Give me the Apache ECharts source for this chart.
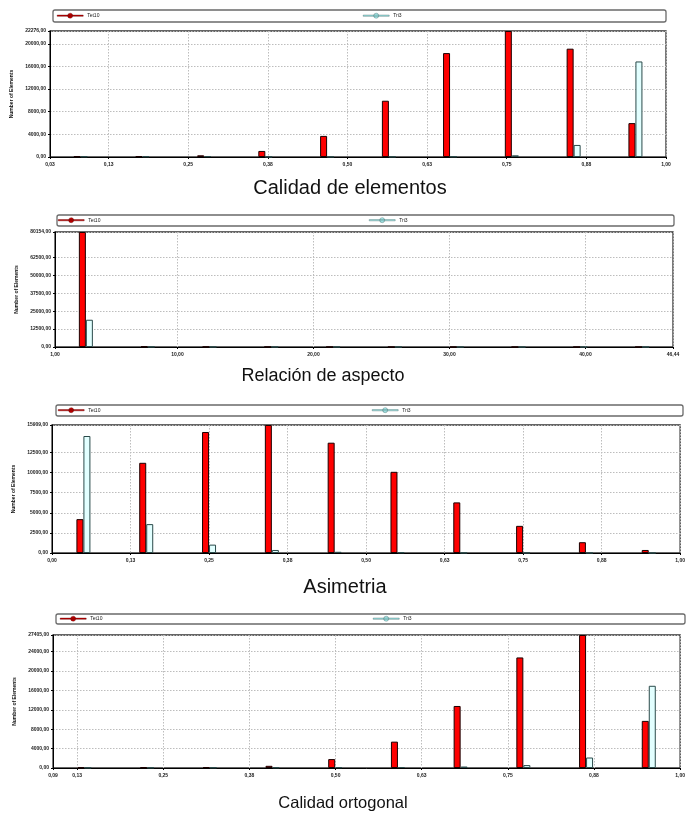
<!DOCTYPE html>
<html>
<head>
<meta charset="utf-8">
<script src="https://cdn.jsdelivr.net/npm/echarts@6/dist/echarts.min.js"></script>
<style>
html,body{margin:0;padding:0;background:#fff;}
#main{width:688px;height:816px;}
</style>
</head>
<body>
<div id="main"></div>
<script>
// ---------- DATA ----------
const seriesNames = ['Tet10', 'Tri3'];
const titles = ['Calidad de elementos', 'Relación de aspecto', 'Asimetria', 'Calidad ortogonal'];
const yAxisName = 'Number of Elements';

// Chart 1: Calidad de elementos
const centers1 = [0.081, 0.178, 0.275, 0.371, 0.468, 0.565, 0.661, 0.758, 0.855, 0.952];
const tet1 = [120, 150, 300, 1070, 3730, 9950, 18370, 22276, 19150, 5990];
const tri1 = [100, 120, 150, 40, 50, 60, 80, 300, 2130, 16890];
const xTicks1 = [0.033, 0.125, 0.25, 0.375, 0.5, 0.625, 0.75, 0.875, 1.0];
const yTicks1 = [0, 4000, 8000, 12000, 16000, 20000, 22276];

// Chart 2: Relación de aspecto
const centers2 = [3.27, 7.82, 12.36, 16.90, 21.45, 25.99, 30.54, 35.08, 39.62, 44.17];
const tet2 = [80154, 400, 200, 120, 80, 50, 30, 20, 15, 10];
const tri2 = [19000, 150, 80, 50, 30, 20, 15, 10, 8, 5];
const xTicks2 = [1, 10, 20, 30, 40, 46.44];
const yTicks2 = [0, 12500, 25000, 37500, 50000, 62500, 80154];

// Chart 3: Asimetria
const centers3 = [0.05, 0.15, 0.25, 0.35, 0.45, 0.55, 0.65, 0.75, 0.85, 0.95];
const tet3 = [4210, 11210, 15040, 15909, 13710, 10090, 6290, 3375, 1340, 375];
const tri3 = [14540, 3590, 1040, 375, 150, 80, 30, 20, 10, 5];
const xTicks3 = [0, 0.125, 0.25, 0.375, 0.5, 0.625, 0.75, 0.875, 1.0];
const yTicks3 = [0, 2500, 5000, 7500, 10000, 12500, 15909];

// Chart 4: Calidad ortogonal
const centers4 = [0.1355, 0.2265, 0.3175, 0.4085, 0.4995, 0.5905, 0.6815, 0.7725, 0.8635, 0.9545];
const tet4 = [100, 150, 200, 450, 1840, 5430, 12780, 22780, 27405, 9710];
const tri4 = [60, 80, 100, 120, 150, 200, 300, 600, 2160, 16940];
const xTicks4 = [0.09, 0.125, 0.25, 0.375, 0.5, 0.625, 0.75, 0.875, 1.0];
const yTicks4 = [0, 4000, 8000, 12000, 16000, 20000, 24000, 27405];

// ---------- LAYOUT / STYLE ----------
const charts = [
  {centers: centers1, tet: tet1, tri: tri1, xTicks: xTicks1, yTicks: yTicks1,
   grid: {left: 50, top: 31, width: 616, height: 126},
   box: {x: 53, y: 10, w: 613, h: 12}, legTop: 13, legA: 57, legB: 363,
   title: {x: 350, y: 178, size: 20}},
  {centers: centers2, tet: tet2, tri: tri2, xTicks: xTicks2, yTicks: yTicks2,
   grid: {left: 55, top: 232, width: 618, height: 115},
   box: {x: 57, y: 215, w: 617, h: 11}, legTop: 217.5, legA: 58, legB: 369,
   title: {x: 323, y: 367, size: 18}},
  {centers: centers3, tet: tet3, tri: tri3, xTicks: xTicks3, yTicks: yTicks3,
   grid: {left: 52, top: 425, width: 630, height: 128},
   box: {x: 56, y: 405, w: 627, h: 11}, legTop: 407.5, legA: 58, legB: 372,
   title: {x: 345, y: 577, size: 20}},
  {centers: centers4, tet: tet4, tri: tri4, xTicks: xTicks4, yTicks: yTicks4,
   grid: {left: 53, top: 635, width: 632, height: 133},
   box: {x: 56, y: 614, w: 629, h: 10}, legTop: 616, legA: 60, legB: 373,
   title: {x: 343, y: 795, size: 16.5}}
];

const FONT = 'Liberation Sans';
const fmt = v => Number(v).toFixed(2).replace('.', ',');
const legendIcon = 'path://M0,3.4 L26,3.4 L26,4.6 L0,4.6 Z M13,1.5 A2.5,2.5 0 1 1 12.99,1.5 Z';

const option = {
  animation: false,
  backgroundColor: '#fff',
  grid: [], xAxis: [], yAxis: [], series: [], legend: [], graphic: []
};

charts.forEach((c, i) => {
  option.grid.push(Object.assign({show: true, borderColor: '#333', borderWidth: 1.3, backgroundColor: '#fff'}, c.grid));
  const xmin = c.xTicks[0], xmax = c.xTicks[c.xTicks.length - 1];
  const ymax = c.yTicks[c.yTicks.length - 1];
  option.xAxis.push({
    type: 'value', gridIndex: i, min: xmin, max: xmax,
    axisLine: {show: true, lineStyle: {color: '#000', width: 1}},
    axisTick: {show: true, length: 2, customValues: c.xTicks, lineStyle: {color: '#000'}},
    axisLabel: {customValues: c.xTicks, formatter: fmt, fontSize: 5, fontWeight: 'bold', fontFamily: FONT, color: '#222', margin: 5},
    splitLine: {show: true, lineStyle: {color: '#bdbdbd', type: [1.5, 1.5], width: 1}}
  });
  option.yAxis.push({
    type: 'value', gridIndex: i, min: 0, max: ymax,
    name: yAxisName, nameLocation: 'middle', nameRotate: 90, nameGap: 33,
    nameTextStyle: {fontSize: 5, fontWeight: 'bold', fontFamily: FONT, color: '#111'},
    axisLine: {show: true, lineStyle: {color: '#000', width: 1}},
    axisTick: {show: true, length: 2, customValues: c.yTicks, lineStyle: {color: '#000'}},
    axisLabel: {customValues: c.yTicks, formatter: fmt, fontSize: 5, fontWeight: 'bold', fontFamily: FONT, color: '#222', margin: 4},
    splitLine: {show: true, lineStyle: {color: '#bdbdbd', type: [1.5, 1.5], width: 1}}
  });
  option.series.push({
    type: 'bar', name: seriesNames[0], xAxisIndex: i, yAxisIndex: i,
    data: c.centers.map((x, k) => [x, c.tet[k]]),
    barWidth: 7, barGap: '0%',
    itemStyle: {color: '#ff0000', borderColor: '#1a0000', borderWidth: 1}
  });
  option.series.push({
    type: 'bar', name: seriesNames[1], xAxisIndex: i, yAxisIndex: i,
    data: c.centers.map((x, k) => [x, c.tri[k]]),
    barWidth: 7, barGap: '0%',
    itemStyle: {color: '#e2ffff', borderColor: '#2a4a4a', borderWidth: 1}
  });
  // legend frame
  option.graphic.push({
    type: 'rect', z: 0, silent: true,
    shape: {x: c.box.x, y: c.box.y, width: c.box.w, height: c.box.h, r: 2},
    style: {fill: '#fff', stroke: '#6a6a6a', lineWidth: 1.3}
  });
  option.legend.push({
    left: c.legA, top: c.legTop, padding: 0, data: [seriesNames[0]], z: 5,
    icon: legendIcon, itemWidth: 26, itemHeight: 6, itemGap: 4, selectedMode: false,
    itemStyle: {color: '#c80000', borderColor: '#500', borderWidth: 0.4},
    textStyle: {fontSize: 5, fontFamily: FONT, color: '#222', padding: [0, 0, 0, -1]}
  });
  option.legend.push({
    left: c.legB, top: c.legTop, padding: 0, data: [seriesNames[1]], z: 5,
    icon: legendIcon, itemWidth: 26, itemHeight: 6, itemGap: 4, selectedMode: false,
    itemStyle: {color: '#a8f0f0', borderColor: '#3a5a5a', borderWidth: 0.4},
    textStyle: {fontSize: 5, fontFamily: FONT, color: '#222', padding: [0, 0, 0, -1]}
  });
  option.graphic.push({
    type: 'text', silent: true,
    style: {text: titles[i], x: c.title.x, y: c.title.y, textAlign: 'center', textVerticalAlign: 'top',
            font: c.title.size + 'px "' + FONT + '"', fill: '#111'}
  });
});

const chart = echarts.init(document.getElementById('main'), null, {renderer: 'canvas'});
chart.setOption(option);
</script>
</body>
</html>
